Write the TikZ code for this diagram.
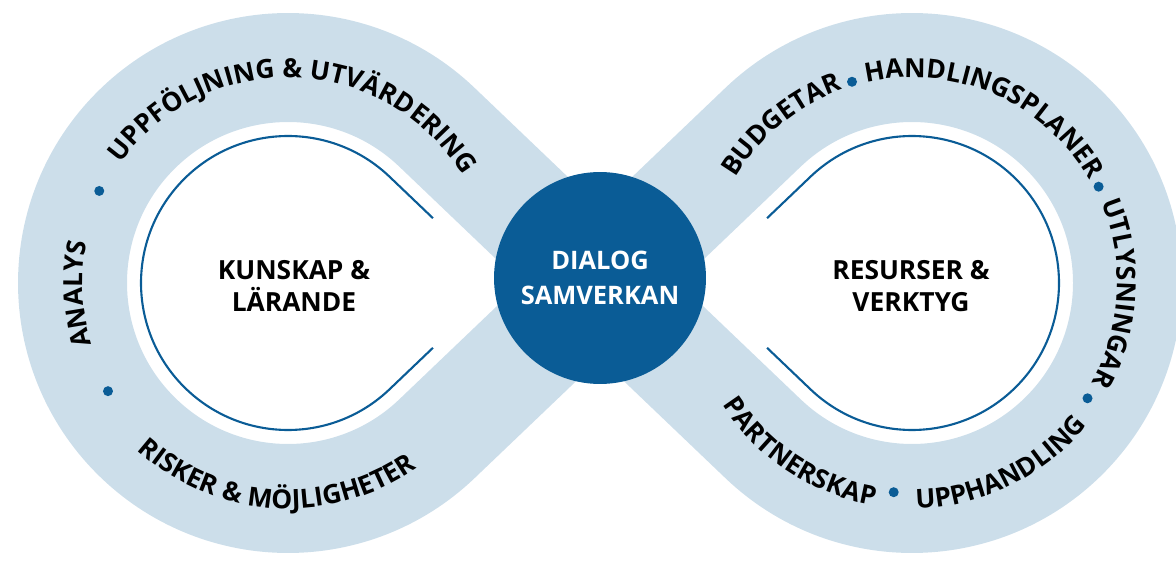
\documentclass[tikz,border=0pt]{standalone}
\usepackage{fontspec}
\setmainfont{Open Sans}
\usetikzlibrary{calc,decorations.text}
\definecolor{ringblue}{RGB}{204,222,234}
\definecolor{deepblue}{RGB}{10,92,150}
\newcommand{\ringfont}{\bfseries\fontsize{15}{18}\selectfont}
\tikzset{
  band/.style     = {draw=ringblue, line width=2.18cm},
  guide/.style    = {draw=deepblue, line width=1.2pt},
  hub/.style      = {circle, fill=deepblue, minimum size=4.24cm, inner sep=0pt,
                     text=white, align=center, font=\bfseries\fontsize{14.5}{20}\selectfont},
  core/.style     = {align=center, font=\bfseries\fontsize{15}{18.5}\selectfont},
  sepdot/.style   = {circle, fill=deepblue, minimum size=0.2cm, inner sep=0pt},
  ringtext/.style = {decorate, decoration={text along path, text align=center,
                     text={|\ringfont|#1}}}
}

\begin{document}
\begin{tikzpicture}[x=0.02cm, y=0.02cm]
  \useasboundingbox (0,0) rectangle (1176,562);
  \clip (0,0) rectangle (1176,562);

  \coordinate (L) at (288,279);
  \coordinate (R) at (912,279);
  \coordinate (X) at (600,279);

  % the figure eight
  \path[band] (X) -- ($(L)+(46.31:215.5)$)
      arc[start angle=46.31, end angle=313.69, radius=215.5]
      -- (X) -- ($(R)+(133.69:215.5)$)
      arc[start angle=133.69, end angle=-133.69, radius=215.5] -- cycle;

  % inner lines
  \path[guide] ($(L)+(46.31:147)+(-43.69:60)$) -- ($(L)+(46.31:147)$)
      arc[start angle=46.31, end angle=313.69, radius=147] -- ++(43.69:60);
  \path[guide] ($(R)+(133.69:147)+(223.69:60)$) -- ($(R)+(133.69:147)$)
      arc[start angle=133.69, end angle=-133.69, radius=147] -- ++(136.31:60);

  % dots between the words
  \node[sepdot] (dotL1) at ($(L)+(154:210)$) {};
  \node[sepdot] (dotL2) at ($(L)+(211:210)$) {};
  \node[sepdot] (dotR1) at ($(R)+(106.6:210)$) {};
  \node[sepdot] (dotR2) at ($(R)+(27.3:210)$) {};
  \node[sepdot] (dotR3) at ($(R)+(-33.3:210)$) {};
  \node[sepdot] (dotR4) at ($(R)+(265:210)$) {};

  % words on the ring, left
  \path[ringtext={UPPFÖLJNING {\&} UTVÄRDERING}] ($(L)+(160:205.5)$)
      arc[start angle=160, end angle=16, radius=205.5];
  \path[ringtext={ANALYS}] ($(L)+(213:205.5)$)
      arc[start angle=213, end angle=153, radius=205.5];
  \path[ringtext={RISKER {\&} MÖJLIGHETER}] ($(L)+(196:225.5)$)
      arc[start angle=196, end angle=337, radius=225.5];

  % words on the ring, right
  \path[ringtext={BUDGETAR}] ($(R)+(160:205.5)$)
      arc[start angle=160, end angle=99, radius=205.5];
  \path[ringtext={HANDLINGSPLANER}] ($(R)+(116:205.5)$)
      arc[start angle=116, end angle=17, radius=205.5];
  \path[ringtext={UTLYSNINGAR}] ($(R)+(37:205.5)$)
      arc[start angle=37, end angle=-43, radius=205.5];
  \path[ringtext={PARTNERSKAP}] ($(R)+(206:225.5)$)
      arc[start angle=206, end angle=267, radius=225.5];
  \path[ringtext={UPPHANDLING}] ($(R)+(266:225.5)$)
      arc[start angle=266, end angle=326, radius=225.5];

  \node[core] (learn) at (294,276) {KUNSKAP \&\\LÄRANDE};
  \node[core] (tools) at (911,276) {RESURSER \&\\VERKTYG};
  \node[hub] (dialog) at (600,284) {DIALOG\\SAMVERKAN};
\end{tikzpicture}
\end{document}
